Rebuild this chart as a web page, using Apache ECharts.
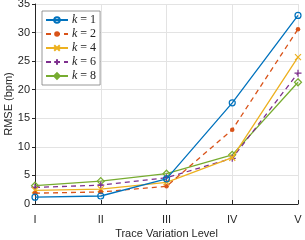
<!DOCTYPE html>
<html><head><meta charset="utf-8">
<script src="https://cdn.jsdelivr.net/npm/echarts@6/dist/echarts.min.js"></script>
<style>html,body{margin:0;padding:0;background:#fff}#c{width:305px;height:240px}</style>
</head><body><div id="c"></div>
<script>
var categories = ['I', 'II', 'III', 'IV', 'V'];
var seriesNames = ['k = 1', 'k = 2', 'k = 4', 'k = 6', 'k = 8'];
var k1 = [1.2, 1.4, 4.4, 17.7, 33.0];
var k2 = [1.9, 2.1, 3.1, 13.0, 30.6];
var k4 = [2.4, 2.6, 3.8, 8.1, 25.7];
var k6 = [2.9, 3.3, 4.6, 8.0, 22.9];
var k8 = [3.2, 4.0, 5.3, 8.6, 21.3];
var yTicks = [0, 5, 10, 15, 20, 25, 30, 35];

var colors = ['#0072BD', '#D95319', '#EDB120', '#7E2F8E', '#77AC30'];
var dataSets = [k1, k2, k4, k6, k8];
var symbols = [
  'path://M10,5A5,5,0,1,1,0,5A5,5,0,1,1,10,5Z',
  'circle',
  'path://M0,0L10,10M10,0L0,10',
  'path://M5,0L5,10M0,5L10,5',
  'path://M5,0L10,5L5,10L0,5Z'
];
var symSizes = [6, 4.5, 6, 7, 7];
var dashed = [false, true, false, true, false];
var filled = [false, true, false, false, false];

var chart = echarts.init(document.getElementById('c'), null, {renderer: 'canvas'});
var series = dataSets.map(function (d, i) {
  return {
    name: seriesNames[i],
    type: 'line',
    data: d,
    symbol: symbols[i],
    symbolSize: symSizes[i],
    showAllSymbol: true,
    color: colors[i],
    lineStyle: {color: colors[i], width: 1.3, type: dashed[i] ? [5, 4] : 'solid'},
    itemStyle: {color: filled[i] ? colors[i] : 'rgba(255,255,255,0)', borderColor: colors[i], borderWidth: filled[i] ? 0 : 1.2},
    emphasis: {disabled: true},
    animation: false,
    z: 10 - i
  };
});

chart.setOption({
  animation: false,
  grid: {left: 35, right: 7, top: 4, bottom: 36, containLabel: false, outerBoundsMode: 'none'},
  legend: {
    left: 42, top: 11, orient: 'vertical',
    itemWidth: 22, itemHeight: 7, itemGap: 2,
    padding: [3, 4, 3, 3],
    backgroundColor: '#fff', borderColor: '#7f7f7f', borderWidth: 0.8,
    data: seriesNames,
    formatter: function (n) { return '{i|k}{t|' + n.slice(1) + '}'; },
    textStyle: {
      color: '#222', padding: [0, 0, 0, -1],
      rich: {
        i: {fontFamily: 'Liberation Serif', fontStyle: 'italic', fontSize: 12, color: '#222'},
        t: {fontFamily: 'Liberation Serif', fontSize: 12, color: '#222'}
      }
    }
  },
  xAxis: {
    type: 'category', data: categories, boundaryGap: false,
    name: 'Trace Variation Level', nameLocation: 'middle', nameGap: 24, nameMoveOverlap: false,
    nameTextStyle: {fontFamily: 'Liberation Sans', fontSize: 11, color: '#262626'},
    axisLine: {lineStyle: {color: '#262626', width: 1}},
    axisTick: {show: true, inside: true, length: 4, alignWithLabel: true, lineStyle: {color: '#262626'}},
    axisLabel: {fontFamily: 'Liberation Sans', fontSize: 11, color: '#262626', margin: 10},
    splitLine: {show: true, lineStyle: {color: '#e3e3e3', width: 1}}
  },
  yAxis: {
    type: 'value', min: 0, max: 35, interval: 5,
    name: 'RMSE (bpm)', nameLocation: 'middle', nameGap: 21, nameMoveOverlap: false,
    nameTextStyle: {fontFamily: 'Liberation Sans', fontSize: 11, color: '#262626'},
    axisLine: {show: true, lineStyle: {color: '#262626', width: 1}},
    axisTick: {show: true, inside: false, length: 3, lineStyle: {color: '#262626'}},
    axisLabel: {fontFamily: 'Liberation Sans', fontSize: 11, color: '#262626', margin: 5,
      formatter: function (v) { return yTicks.indexOf(v) >= 0 ? String(v) : ''; }},
    splitLine: {show: true, lineStyle: {color: '#e3e3e3', width: 1}}
  },
  series: series
});
</script></body></html>
